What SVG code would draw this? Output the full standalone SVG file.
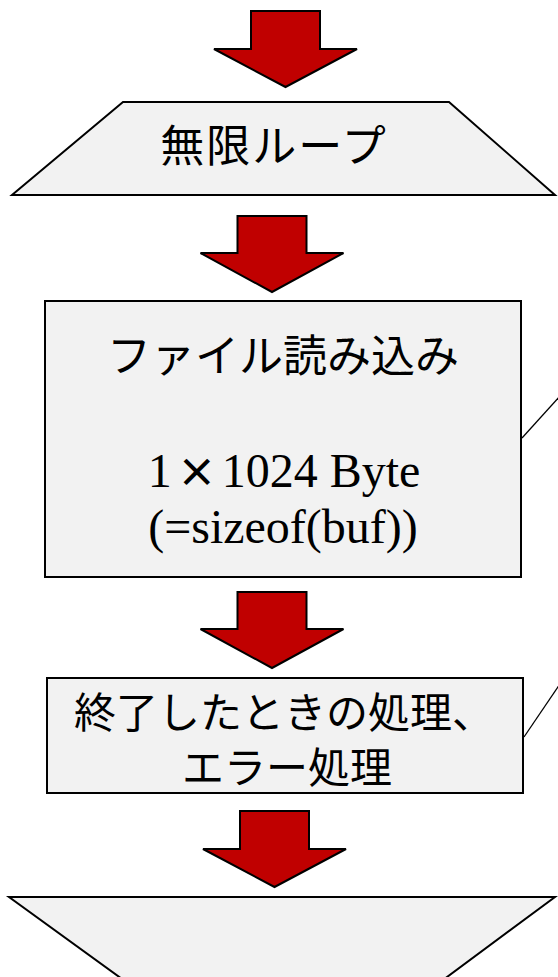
<svg xmlns="http://www.w3.org/2000/svg" width="558" height="977" viewBox="0 0 558 977">
  <style>
    .shape { fill: #f2f2f2; stroke: #000; stroke-width: 2; }
    .arrow { fill: #c00000; stroke: #000; stroke-width: 2; stroke-linejoin: miter; }
    .jp { font-family: "Noto Sans CJK JP", "Noto Sans", sans-serif; fill: #000; text-anchor: middle; }
    .serif { font-family: "Liberation Serif", "Times New Roman", serif; fill: #000; text-anchor: middle; font-size: 48px; }
    .conn { stroke: #000; stroke-width: 1.3; fill: none; }
  </style>
  <rect width="558" height="977" fill="#fff"/>

  <g id="arrow1"><polygon class="arrow" points="251,11 320,11 320,49 357,49 285.5,87 214,49 251,49"/></g>

  <g id="loop-start">
    <polygon class="shape" points="123,102 449,102 555,195 12,195"/>
    <text class="jp" x="274" y="162" font-size="44" letter-spacing="2">無限ループ</text>
  </g>

  <g id="arrow2"><polygon class="arrow" points="237.5,216 306.5,216 306.5,253 343.5,253 272,292 200.5,253 237.5,253"/></g>

  <g id="read-file">
    <rect class="shape" x="45" y="301" width="476" height="276"/>
    <text class="jp" x="283" y="372" font-size="44">ファイル読み込み</text>
    <text class="serif" x="284" y="487">1<tspan dx="5" font-family="Noto Sans CJK JP, sans-serif" font-size="40" font-weight="bold">×</tspan><tspan dx="5">1024 Byte</tspan></text>
    <text class="serif" x="283" y="543">(=sizeof(buf))</text>
  </g>

  <g id="arrow3"><polygon class="arrow" points="237.5,592 306.5,592 306.5,629 343.5,629 272,668 200.5,629 237.5,629"/></g>

  <g id="end-process">
    <rect class="shape" x="47" y="678" width="476" height="115"/>
    <text class="jp" x="284" y="728" font-size="42">終了したときの処理、</text>
    <text class="jp" x="287" y="783" font-size="42">エラー処理</text>
  </g>

  <g id="arrow4"><polygon class="arrow" points="240,811 309,811 309,849 346,849 274.5,887 203,849 240,849"/></g>

  <g id="loop-end">
    <polygon class="shape" points="9,897 555,897 416,1000 151,1000"/>
  </g>

  <g id="connectors">
    <line class="conn" x1="522" y1="438" x2="560" y2="396"/>
    <line class="conn" x1="524" y1="737" x2="562" y2="681"/>
  </g>
</svg>
